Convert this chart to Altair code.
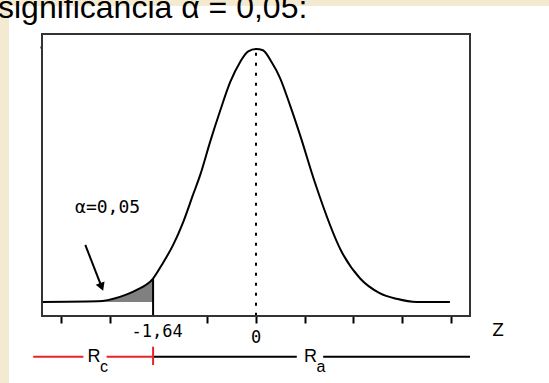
import altair as alt
import pandas as pd

# Normal density as drawn: z position and curve height
Z_VALUES = [-3.41, -2.52, -2.17, -1.90, -1.64, -1.48, -1.32, -1.16, -1.00, -0.89,
            -0.73, -0.57, -0.41, -0.25, -0.13, 0.00, 0.11, 0.25, 0.38, 0.54,
            0.70, 0.94, 1.36, 1.66, 1.97, 2.24, 2.56, 3.09]
HEIGHTS = [0.000, 0.001, 0.008, 0.019, 0.037, 0.062, 0.090, 0.126, 0.170, 0.200,
           0.253, 0.302, 0.347, 0.379, 0.395, 0.399, 0.397, 0.378, 0.354, 0.311,
           0.264, 0.188, 0.080, 0.037, 0.014, 0.005, 0.000, 0.000]

CRITICAL_Z = -1.64
CRITICAL_H = 0.037
CENTER_TOP_H = 0.393

X_DOMAIN = [-3.41, 3.41]
Y_DOMAIN = [-0.0221, 0.4227]
X_TICKS = [-3.1, -2.33, -0.78, 0.0, 0.78, 1.55, 2.33, 3.1]
Y_TICKS = [0.402]

TITLE_TEXT = "significancia α = 0,05:"
ALPHA_TEXT = "α=0,05"
ALPHA_POS = {"z": -2.365, "h": 0.1475}
ARROW = {"z1": -2.72, "h1": 0.090, "z2": -2.46, "h2": 0.0237}

# Rejection / acceptance bar under the axis
REJECT_SEGMENTS = {"a": [-3.55, -2.38], "b": [-2.75, -1.64]}
ACCEPT_SEGMENTS = {"a": [-1.64, 1.07], "b": [0.65, 3.41]}
RC_Z, RA_Z = -2.58, 0.87

W, H = 428, 282
one = pd.DataFrame({"k": [0]})
curve = pd.DataFrame({"z": Z_VALUES, "h": HEIGHTS})
tail = curve[curve["z"] <= CRITICAL_Z]

xs = alt.Scale(domain=X_DOMAIN, nice=False, zero=False)
ys = alt.Scale(domain=Y_DOMAIN, nice=False, zero=False)
x_axis = alt.Axis(values=X_TICKS, labels=False, domain=False, grid=False,
                  ticks=True, tickSize=7, tickWidth=2, tickColor="black", title=None)
y_axis = alt.Axis(values=Y_TICKS, labels=False, domain=False, grid=False,
                  ticks=True, tickSize=2, tickWidth=2, tickColor="black", title=None)


def X(field):
    return alt.X(field, type="quantitative", scale=xs, axis=x_axis)


def Y(field):
    return alt.Y(field, type="quantitative", scale=ys, axis=y_axis)


beige = "#F4E9D1"
band_top = alt.Chart(one).mark_rect(color=beige).encode(
    x=alt.value(-42), x2=alt.value(507), y=alt.value(-34), y2=alt.value(-28))
band_left = alt.Chart(one).mark_rect(color=beige).encode(
    x=alt.value(-42), x2=alt.value(-33), y=alt.value(-34), y2=alt.value(349))

title = alt.Chart(one).mark_text(
    align="left", baseline="alphabetic", font="Liberation Sans", fontSize=32,
    color="black").encode(x=alt.value(-44), y=alt.value(-16.5), text=alt.value(TITLE_TEXT))

frame = alt.Chart(one).mark_rect(fill=None, stroke="#333333", strokeWidth=2).encode(
    x=alt.value(0), x2=alt.value(W), y=alt.value(0), y2=alt.value(H))

shade = alt.Chart(tail).mark_area(color="#808080", interpolate="monotone").encode(
    x=X("z"), y=Y("h"), y2=alt.value(H))

line = alt.Chart(curve).mark_line(color="black", strokeWidth=2, interpolate="monotone").encode(
    x=X("z"), y=Y("h"))

crit = pd.DataFrame({"z": [CRITICAL_Z], "h": [CRITICAL_H]})
crit_rule = alt.Chart(crit).mark_rule(color="black", strokeWidth=2).encode(
    x=X("z"), y=Y("h"), y2=alt.value(H))

center = pd.DataFrame({"z": [0.0], "h": [CENTER_TOP_H]})
center_rule = alt.Chart(center).mark_rule(color="black", strokeWidth=2, strokeDash=[3, 7]).encode(
    x=X("z"), y=Y("h"), y2=alt.value(H))

arrow_df = pd.DataFrame([ARROW])
arrow_line = alt.Chart(arrow_df).mark_rule(color="black", strokeWidth=2).encode(
    x=X("z1"), y=Y("h1"), x2="z2", y2="h2")
arrow_head = alt.Chart(arrow_df).mark_point(
    shape="triangle-down", filled=True, color="black", size=90, angle=338.6, opacity=1).encode(
    x=X("z2"), y=Y("h2"))

alpha_df = pd.DataFrame([ALPHA_POS])
alpha_txt = alt.Chart(alpha_df).mark_text(
    font="DejaVu Sans Mono", fontSize=18, color="black").encode(
    x=X("z"), y=Y("h"), text=alt.value(ALPHA_TEXT))

crit_lbl = alt.Chart(crit).mark_text(
    font="DejaVu Sans Mono", fontSize=17, color="black", dx=4).encode(
    x=X("z"), y=alt.value(297.5), text=alt.value("-1,64"))
zero_lbl = alt.Chart(center).mark_text(
    font="DejaVu Sans Mono", fontSize=17, color="black").encode(
    x=X("z"), y=alt.value(303.5), text=alt.value("0"))
z_lbl = alt.Chart(one).mark_text(
    font="DejaVu Sans", fontSize=17, color="black").encode(
    x=alt.value(456), y=alt.value(296.7), text=alt.value("Z"))

red = "#E3262B"
rej = pd.DataFrame({"z1": [REJECT_SEGMENTS["a"][0], REJECT_SEGMENTS["a"][1]],
                    "z2": [REJECT_SEGMENTS["b"][0], REJECT_SEGMENTS["b"][1]]})
acc = pd.DataFrame({"z1": [ACCEPT_SEGMENTS["a"][0], ACCEPT_SEGMENTS["a"][1]],
                    "z2": [ACCEPT_SEGMENTS["b"][0], ACCEPT_SEGMENTS["b"][1]]})
rej_line = alt.Chart(rej).mark_rule(color=red, strokeWidth=2).encode(
    x=X("z1"), x2="z2", y=alt.value(322.7))
acc_line = alt.Chart(acc).mark_rule(color="black", strokeWidth=2).encode(
    x=X("z1"), x2="z2", y=alt.value(322.7))
rej_tick = alt.Chart(crit).mark_rule(color=red, strokeWidth=2).encode(
    x=X("z"), y=alt.value(312.7), y2=alt.value(331))

lbl = pd.DataFrame({"z": [RC_Z, RA_Z], "sub": ["c", "a"]})
r_main = alt.Chart(lbl).mark_text(
    font="Liberation Sans", fontSize=18, color="black", baseline="alphabetic").encode(
    x=X("z"), y=alt.value(327.7), text=alt.value("R"))
r_sub = alt.Chart(lbl).mark_text(
    font="Liberation Sans", fontSize=16, color="black", baseline="alphabetic",
    align="left", dx=6).encode(
    x=X("z"), y=alt.value(338), text="sub:N")

chart = alt.layer(
    band_top, band_left, title, shade, line, crit_rule, center_rule,
    arrow_line, arrow_head, alpha_txt, crit_lbl, zero_lbl, z_lbl,
    rej_line, acc_line, rej_tick, r_main, r_sub, frame,
).properties(
    width=W, height=H,
    autosize=alt.AutoSizeParams(type="none"),
    padding={"left": 42, "top": 34, "right": 79, "bottom": 67},
    background="white",
).configure_view(stroke=None)

chart.save("out.html", embed_options={"renderer": "svg", "actions": False})
